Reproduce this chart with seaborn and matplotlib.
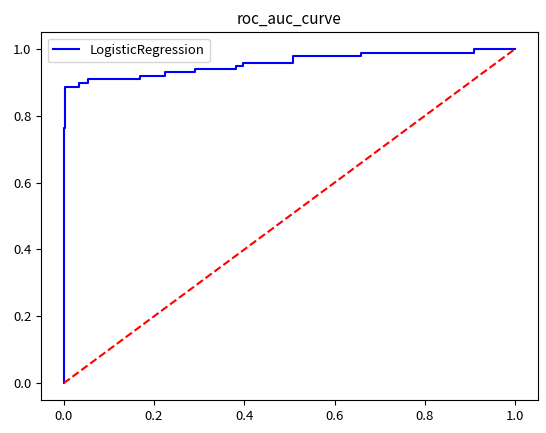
import numpy as np
import pandas as pd
import matplotlib
matplotlib.use("Agg")
import matplotlib.pyplot as plt
import seaborn as sns

plt.rcParams['font.family'] = ['Noto Sans CJK KR', 'DejaVu Sans']
plt.rcParams['axes.unicode_minus'] = False

# roc curve points
fpr = [0.0, 0.0, 0.003, 0.003, 0.033, 0.033, 0.055, 0.055, 0.17, 0.17, 0.224, 0.224,
       0.29, 0.29, 0.382, 0.382, 0.397, 0.397, 0.507, 0.507, 0.659, 0.659, 0.909, 0.909, 1.0]
tpr = [0.0, 0.763, 0.763, 0.887, 0.887, 0.897, 0.897, 0.909, 0.909, 0.918, 0.918, 0.929,
       0.929, 0.939, 0.939, 0.948, 0.948, 0.958, 0.958, 0.979, 0.979, 0.987, 0.987, 1.0, 1.0]
diag = [0.0, 1.0]

df = pd.DataFrame({'fpr': fpr, 'tpr': tpr})

fig = plt.figure(figsize=(5.46, 4.33), dpi=100)
ax = fig.add_axes([41 / 546, 33 / 433, 497 / 546, 368 / 433])

sns.lineplot(data=df, x='fpr', y='tpr', color='blue', label='LogisticRegression',
             estimator=None, sort=False, ax=ax)
sns.lineplot(x=diag, y=diag, color='red', linestyle='--', estimator=None, ax=ax)

ax.set_title('roc_auc_curve', fontsize=11)
ax.set_xlabel('')
ax.set_ylabel('')
ax.tick_params(labelsize=9.5)
ax.legend(loc='upper left', fontsize=9.5)

fig.savefig('out.png', dpi=100)
